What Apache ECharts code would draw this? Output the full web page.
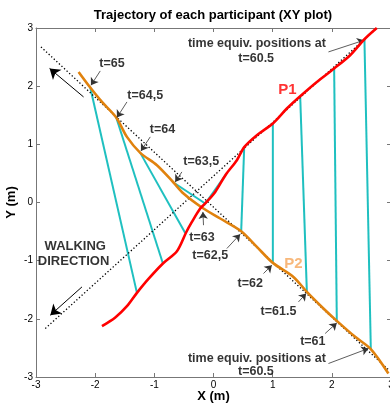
<!DOCTYPE html>
<html><head><meta charset="utf-8">
<script src="https://cdn.jsdelivr.net/npm/echarts@6/dist/echarts.min.js"></script>
<style>html,body{margin:0;padding:0;background:#fff}#c{width:390px;height:407px}</style>
</head><body><div id="c"></div>
<script>
// Participant 1 trajectory (red)
const p1X = [-1.885,-1.660,-1.463,-1.294,-1.103,-0.855,-0.618,-0.461,-0.365,-0.225,-0.140,0.029,0.209,0.395,0.519,0.733,1.003,1.240,1.465,1.747,2.039,2.309,2.551,2.760];
const p1Y = [-2.127,-1.977,-1.783,-1.554,-1.319,-1.049,-0.837,-0.511,-0.334,-0.103,-0.017,0.182,0.481,0.727,0.951,1.157,1.358,1.616,1.827,2.073,2.304,2.532,2.807,3.000];
// Participant 2 trajectory (orange)
const p2X = [-2.280,-2.083,-1.885,-1.644,-1.463,-1.238,-0.956,-0.676,-0.507,-0.190,0.113,0.468,0.733,1.003,1.351,1.578,1.858,2.084,2.394,2.659,2.956];
const p2Y = [2.245,1.977,1.729,1.461,1.128,0.853,0.641,0.344,0.155,-0.090,-0.275,-0.493,-0.763,-1.038,-1.279,-1.537,-1.822,-2.035,-2.310,-2.522,-2.940];
// Time-equivalent links: P2 end -> P1 end
const linkP2X = [-2.083,-1.644,-1.238,-0.676,-0.160,0.468,1.003,1.578,2.084,2.659];
const linkP2Y = [1.977,1.461,0.853,0.344,-0.050,-0.493,-1.038,-1.537,-2.035,-2.522];
const linkP1X = [-1.294,-0.855,-0.478,-0.140,0.209,0.519,1.003,1.465,2.039,2.551];
const linkP1Y = [-1.554,-1.049,-0.523,-0.017,0.481,0.951,1.358,1.827,2.304,2.807];
// Dotted guide lines (walking directions)
const guideA = [[-2.916,2.675],[2.95,-2.868]];
const guideB = [[-2.843,-2.166],[2.75,2.99]];
// Walking direction arrows [from, to]
const walkArrows = [[[-2.196,1.815],[-2.770,2.304]],[[-2.223,-1.451],[-2.758,-1.937]]];
// Annotation labels
const annTexts = ['t=65','t=64,5','t=64','t=63,5','t=63','t=62,5','t=62','t=61.5','t=61','time equiv. positions at','t=60.5','time equiv. positions at','t=60.5'];
const annPos = [[-1.716,2.390],[-1.154,1.844],[-0.861,1.255],[-0.208,0.710],[-0.196,-0.597],[-0.056,-0.906],[0.620,-1.392],[1.098,-1.881],[1.679,-2.396],[0.733,2.730],[0.721,2.476],[0.733,-2.677],[0.716,-2.912]];
// Annotation arrows [from, to]
const annArrows = [
 [[-1.914,2.262],[-2.071,2.016]],
 [[-1.463,1.729],[-1.632,1.461]],
 [[-1.069,1.128],[-1.226,0.887]],
 [[-0.534,0.526],[-0.647,0.354]],
 [[-0.169,-0.390],[-0.179,-0.162]],
 [[0.226,-0.791],[0.451,-0.545]],
 [[0.845,-1.221],[0.986,-1.078]],
 [[1.436,-1.709],[1.566,-1.564]],
 [[1.887,-2.252],[2.084,-2.070]],
 [[1.943,-2.768],[2.618,-2.510]],
 [[1.943,2.589],[2.546,2.790]]
];
const nameLabels = [{t:'P1',p:[1.250,1.931],c:'#ff0000'},{t:'P2',p:[1.351,-1.049],c:'#f6a65a'}];
const walkLabels = [{t:'WALKING',p:[-2.336,-0.763]},{t:'DIRECTION',p:[-2.365,-1.021]}];

const FONT = 'Liberation Sans, Arial, sans-serif';
const zip = (a,b)=>a.map((v,i)=>[v,b[i]]);
const series = [];
linkP1X.forEach((_,i)=>{
  series.push({type:'line',data:[[linkP2X[i],linkP2Y[i]],[linkP1X[i],linkP1Y[i]]],symbol:'none',
    lineStyle:{color:'#1fc0c0',width:2},silent:true,z:2});
});
[guideA,guideB].forEach(g=>series.push({type:'line',data:g,symbol:'none',lineStyle:{color:'#000',width:1.3,type:[1.3,2.2]},silent:true,z:3}));
series.push({type:'line',data:zip(p2X,p2Y),symbol:'none',smooth:0.3,lineStyle:{color:'#e0820e',width:2.6},z:4});
series.push({type:'line',data:zip(p1X,p1Y),symbol:'none',smooth:0.3,lineStyle:{color:'#ff0000',width:2.6},z:5});
// arrows via markLine
series.push({type:'line',data:[],silent:true,z:6,markLine:{silent:true,animation:false,symbol:['none','arrow'],symbolSize:7,
  label:{show:false},lineStyle:{color:'#333',width:0.8,type:'solid'},
  data:annArrows.map(a=>[{coord:a[0]},{coord:a[1]}])}});
series.push({type:'line',data:[],silent:true,z:6,markLine:{silent:true,animation:false,symbol:['none','arrow'],symbolSize:10,
  label:{show:false},lineStyle:{color:'#000',width:1,type:'solid'},
  data:walkArrows.map(a=>[{coord:a[0]},{coord:a[1]}])}});
// text labels via scatter
series.push({type:'scatter',symbolSize:0,silent:true,z:10,
  data:annTexts.map((t,i)=>({value:annPos[i],label:{formatter:t}})),
  label:{show:true,position:'inside',color:'#000',fontWeight:'bold',fontSize:12.5,fontFamily:FONT}});
series.push({type:'scatter',symbolSize:0,silent:true,z:10,
  data:walkLabels.map(o=>({value:o.p,label:{formatter:o.t}})),
  label:{show:true,position:'inside',color:'#000',fontWeight:'bold',fontSize:13,fontFamily:FONT}});
series.push({type:'scatter',symbolSize:0,silent:true,z:10,
  data:nameLabels.map(o=>({value:o.p,label:{formatter:o.t,color:o.c}})),
  label:{show:true,position:'inside',fontWeight:'bold',fontSize:15,fontFamily:FONT}});

const axLine = {show:true,onZero:false,lineStyle:{color:'#777',width:1}};
const tick = {show:true,inside:true,length:4,lineStyle:{color:'#777'}};
const chart = echarts.init(document.getElementById('c'),null,{renderer:'canvas'});
chart.setOption({
  animation:false,
  backgroundColor:'#fff',
  grid:{left:36,top:28,width:355,height:349,containLabel:false,outerBoundsMode:'none'},
  graphic:[{type:'text',x:213,y:15,style:{text:'Trajectory of each participant (XY plot)',align:'center',verticalAlign:'middle',font:'bold 13px '+FONT,fill:'#000'}}],
  xAxis:[
    {type:'value',min:-3,max:3,interval:1,position:'bottom',name:'X (m)',nameLocation:'middle',nameGap:13,nameMoveOverlap:false,
     nameTextStyle:{fontWeight:'bold',fontSize:13,fontFamily:FONT,color:'#000'},
     axisLine:axLine,axisTick:tick,splitLine:{show:false},
     axisLabel:{fontSize:10,fontFamily:FONT,color:'#000',margin:3}},
    {type:'value',min:-3,max:3,interval:1,position:'top',axisLine:axLine,axisTick:tick,axisLabel:{show:false},splitLine:{show:false}}
  ],
  yAxis:[
    {type:'value',min:-3,max:3,interval:1,position:'left',name:'Y (m)',nameLocation:'middle',nameGap:18,nameMoveOverlap:false,
     nameTextStyle:{fontWeight:'bold',fontSize:13,fontFamily:FONT,color:'#000'},
     axisLine:axLine,axisTick:tick,splitLine:{show:false},
     axisLabel:{fontSize:10,fontFamily:FONT,color:'#000',margin:3}},
    {type:'value',min:-3,max:3,interval:1,position:'right',axisLine:axLine,axisTick:tick,axisLabel:{show:false},splitLine:{show:false}}
  ],
  series:series
});
</script></body></html>
